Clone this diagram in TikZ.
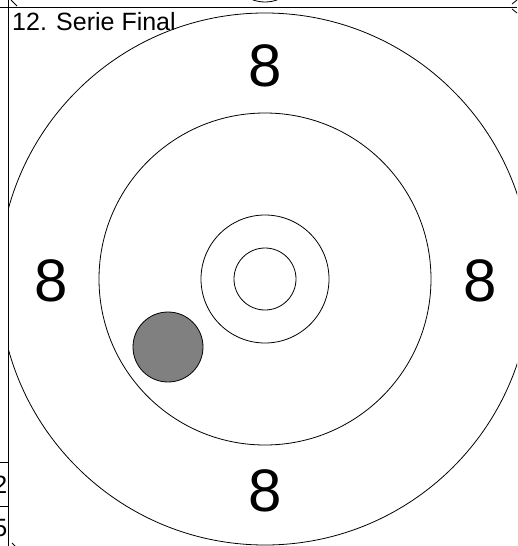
\documentclass[tikz,border=0pt]{standalone}
\usepackage{fontspec}
\setmainfont{Liberation Sans}
\begin{document}
\begin{tikzpicture}[x=1pt,y=-1pt,
  ring/.style={draw=black,line width=0.8pt},
  frame/.style={draw=black,line width=1pt},
  score/.style={font=\fontsize{60}{60}\selectfont,inner sep=0pt,anchor=center},
  title/.style={font=\fontsize{25}{25}\selectfont,inner sep=0pt,anchor=base west},
  cell/.style={font=\fontsize{25}{25}\selectfont,inner sep=0pt,anchor=base east}]
\useasboundingbox (0,0) rectangle (517,546);
\coordinate (c) at (265,279);
% target rings, clipped to the target box
\begin{scope}
\clip (8.5,7.5) rectangle (517,546);
\draw[ring] (c) circle[radius=266];
\draw[ring] (c) circle[radius=166];
\draw[ring] (c) circle[radius=64];
\draw[ring] (c) circle[radius=31];
\end{scope}
% neighbouring pieces outside the box
\begin{scope}
\clip (0,0) rectangle (517,7);
\draw[ring] (265,-34) circle[radius=36];
\end{scope}
\draw[ring] (11,0) -- (17,6);
\draw[ring] (512,4) -- (517,0);
\draw[ring] (512,9) -- (517,13);
\draw[ring] (12,543) -- (15,546);
% frame
\draw[frame] (0,7.5) -- (517,7.5);
\draw[frame] (8.5,0) -- (8.5,546);
\draw[frame] (0,462) -- (8.5,462);
\draw[frame] (0,506) -- (8.5,506);
\begin{scope}
\clip (0,462) rectangle (8,546);
\node[cell] (t2) at (7.5,493) {2};
\node[cell] (t5) at (7.5,536) {5};
\end{scope}
% shot
\node[circle,draw=black,fill=gray,line width=0.8pt,minimum size=70pt,inner sep=0pt] (shot) at (168,347) {};
% labels
\node[title] (ttl) at (12,30.5) {12. Serie Final};
\node[score] (n8t) at (265,66) {8};
\node[score] (n8l) at (51,281) {8};
\node[score] (n8r) at (480,281) {8};
\node[score] (n8b) at (265,491) {8};
\end{tikzpicture}
\end{document}
